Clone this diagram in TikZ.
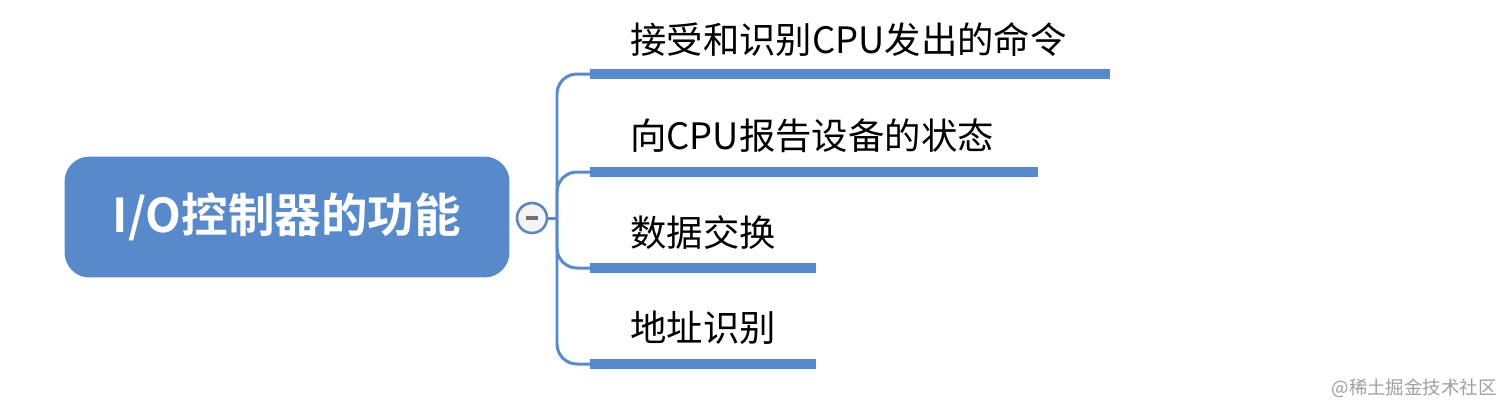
\documentclass[tikz,border=0pt]{standalone}
\usepackage{fontspec}
\newfontfamily\cjk{Noto Sans CJK SC}[BoldFont={Noto Sans CJK SC Bold}]
\usetikzlibrary{positioning}
\definecolor{mapblue}{RGB}{88,137,202}
\tikzset{
	rootbox/.style={
		rectangle,
		rounded corners=0.5cm,
		fill=mapblue,
		text=white,
		minimum width=8.9cm,
		minimum height=2.42cm,
		font=\cjk\bfseries\fontsize{26.5}{30}\selectfont},
	toggle/.style={circle, draw=mapblue!80!gray, line width=1.5pt, fill=gray!8, minimum size=0.6cm, inner sep=0pt},
	trunk/.style={draw=mapblue, line width=1.7pt},
	bar/.style={draw=mapblue, line width=5.8pt},
	leaf/.style={anchor=west, inner sep=0pt, font=\cjk\fontsize{20.7}{24}\selectfont},
}
\begin{document}
\begin{tikzpicture}[x=0.02cm,y=-0.02cm]
	\useasboundingbox (0,0) rectangle (1512,414);
	\node[rootbox] (root) at (287,217) {I/O控制器的功能};
	\node[toggle] (knob) at (532,218) {};
	\draw[gray!90!black,line width=1.8pt] ([xshift=-0.12cm]knob.center) -- ([xshift=0.12cm]knob.center);
	
	% branch points
	\coordinate (fork) at (557,218);
	\coordinate (b1s) at (590,74);  \coordinate (b1e) at (1110,74);
	\coordinate (b2s) at (590,172); \coordinate (b2e) at (1038,172);
	\coordinate (b3s) at (590,268); \coordinate (b3e) at (816,268);
	\coordinate (b4s) at (590,364); \coordinate (b4e) at (816,364);
	
	\draw[trunk] (knob) -- (fork);
	\draw[trunk, rounded corners=0.4cm] (fork) |- (b1s);
	\draw[trunk, rounded corners=0.4cm] (fork) |- (b2s);
	\draw[trunk, rounded corners=0.4cm] (fork) |- (b3s);
	\draw[trunk, rounded corners=0.4cm] (fork) |- (b4s);
	
	\draw[bar] (b1s) -- (b1e);
	\draw[bar] (b2s) -- (b2e);
	\draw[bar] (b3s) -- (b3e);
	\draw[bar] (b4s) -- (b4e);
	
	\node[leaf] (eins) at (630,40)  {接受和识别CPU发出的命令};
	\node[leaf] (zwei) at (630,136) {向CPU报告设备的状态};
	\node[leaf] (drei) at (630,233) {数据交换};
	\node[leaf] (vier) at (630,328) {地址识别};
	
	\node[anchor=east, inner sep=0pt, text=gray!75, font=\cjk\fontsize{10.5}{12}\selectfont] (mark) at (1497,388) {@稀土掘金技术社区};
\end{tikzpicture}
\end{document}
